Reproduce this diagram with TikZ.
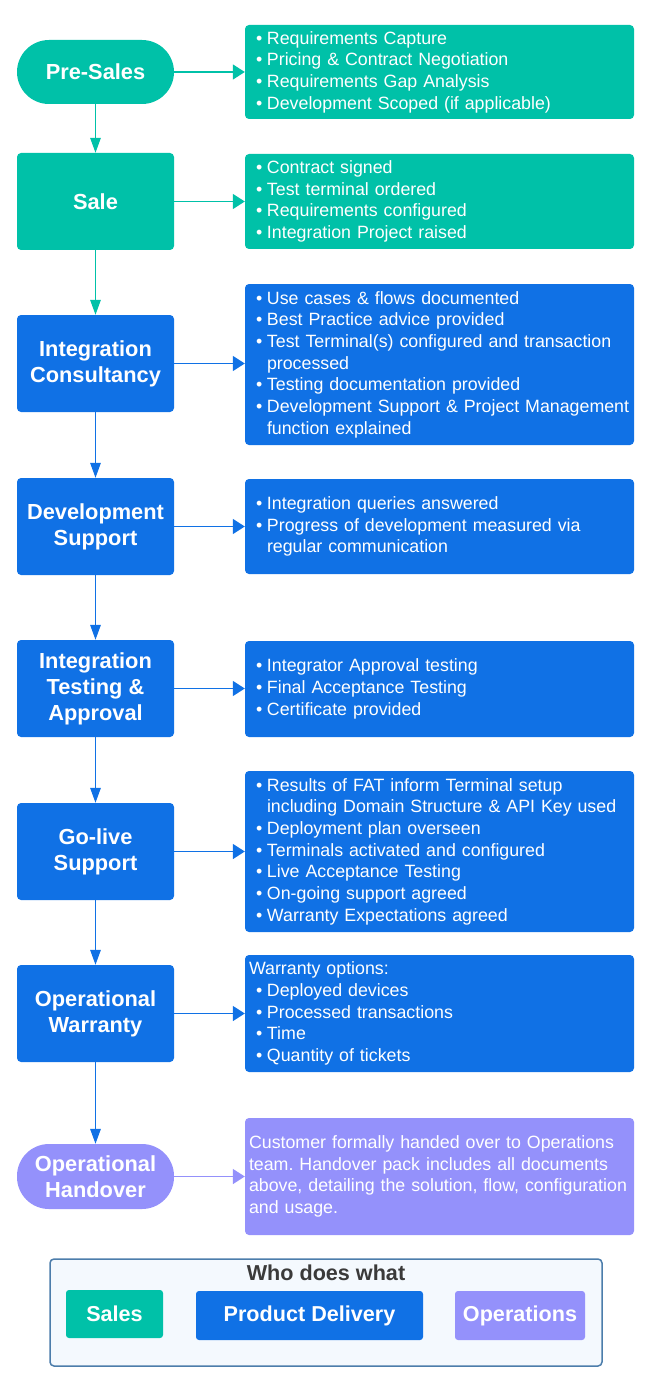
\documentclass[tikz,border=0pt]{standalone}
\usepackage{fontspec}
\setmainfont{Liberation Sans}
\usetikzlibrary{arrows.meta}
\definecolor{cSales}{HTML}{00C1A8}
\definecolor{cDev}{HTML}{1071E5}
\definecolor{cOps}{HTML}{9491FB}
\definecolor{cLegBg}{HTML}{F4F9FE}
\definecolor{cLegBd}{HTML}{4C7DAB}
\definecolor{cTitle}{HTML}{3A3A3A}
\frenchspacing
\hbadness=10000 \hfuzz=20pt
\newcommand\bitem[1]{\mbox{\hspace*{7pt}\makebox[11pt][l]{\textbullet}#1}}
\newcommand\cont[1]{\mbox{\hspace*{18pt}#1}}
\newcommand\plainline[1]{\mbox{#1}}
\tikzset{
  stagebox/.style={rectangle, rounded corners=4pt, minimum width=157pt, minimum height=97pt,
    text=white, font=\fontsize{21.8}{26}\selectfont\bfseries, align=center, inner sep=2pt},
  stadium/.style={stagebox, rounded corners=32pt, minimum height=64pt},
  infobox/.style={rectangle, rounded corners=4pt, text width=381pt, inner xsep=4pt, inner ysep=2pt,
    text=white, font=\fontsize{17.8}{21.7}\selectfont, align=left},
  vflow/.style={line width=1.5pt, -{Triangle[length=15pt,width=10.5pt]}},
  hflow/.style={line width=1.5pt, -{Triangle[length=12pt,width=15pt]}},
  legbox/.style={rectangle, rounded corners=3pt, text=white, font=\fontsize{21.6}{24}\selectfont\bfseries, inner sep=0pt},
}
\begin{document}
\begin{tikzpicture}[x=1pt,y=-1pt]
\useasboundingbox (0,0) rectangle (655,1380);
% stages
\node[stadium, fill=cSales] (pre) at (95.5,72) {Pre-Sales};
\node[stagebox, fill=cSales] (sale) at (95.5,201.5) {Sale};
\node[stagebox, fill=cDev] (ic) at (95.5,363.5) {Integration\\Consultancy};
\node[stagebox, fill=cDev] (ds) at (95.5,526.5) {Development\\Support};
\node[stagebox, fill=cDev] (ita) at (95.5,688.5) {Integration\\Testing \&\\Approval};
\node[stagebox, fill=cDev] (gl) at (95.5,851.5) {Go-live\\Support};
\node[stagebox, fill=cDev] (ow) at (95.5,1013.5) {Operational\\Warranty};
\node[stadium, fill=cOps, minimum height=65pt] (oh) at (95.5,1176.5) {Operational\\Handover};
% info boxes
\node[infobox, fill=cSales, minimum height=94pt] (r1) at (439.5,72) {%
\bitem{Requirements Capture}\\
\bitem{Pricing \& Contract Negotiation}\\
\bitem{Requirements Gap Analysis}\\
\bitem{Development Scoped (if applicable)}};
\node[infobox, fill=cSales, minimum height=95pt] (r2) at (439.5,201.5) {%
\bitem{Contract signed}\\
\bitem{Test terminal ordered}\\
\bitem{Requirements configured}\\
\bitem{Integration Project raised}};
\node[infobox, fill=cDev, minimum height=161pt] (r3) at (439.5,364.5) {%
\bitem{Use cases \& flows documented}\\
\bitem{Best Practice advice provided}\\
\bitem{Test Terminal(s) configured and transaction}\\
\cont{processed}\\
\bitem{Testing documentation provided}\\
\bitem{Development Support \& Project Management}\\
\cont{function explained}};
\node[infobox, fill=cDev, minimum height=95pt] (r4) at (439.5,526.5) {%
\bitem{Integration queries answered}\\
\bitem{Progress of development measured via}\\
\cont{regular communication}};
\node[infobox, fill=cDev, minimum height=96pt] (r5) at (439.5,689) {%
\bitem{Integrator Approval testing}\\
\bitem{Final Acceptance Testing}\\
\bitem{Certificate provided}};
\node[infobox, fill=cDev, minimum height=161pt] (r6) at (439.5,851.5) {%
\bitem{Results of FAT inform Terminal setup}\\
\cont{including Domain Structure \& API Key used}\\
\bitem{Deployment plan overseen}\\
\bitem{Terminals activated and configured}\\
\bitem{Live Acceptance Testing}\\
\bitem{On-going support agreed}\\
\bitem{Warranty Expectations agreed}};
\node[infobox, fill=cDev, minimum height=117pt] (r7) at (439.5,1013.5) {%
\plainline{Warranty options:}\\
\bitem{Deployed devices}\\
\bitem{Processed transactions}\\
\bitem{Time}\\
\bitem{Quantity of tickets}};
\node[infobox, fill=cOps, minimum height=117pt] (r8) at (439.5,1176.5) {%
\plainline{Customer formally handed over to Operations}\\
\plainline{team. Handover pack includes all documents}\\
\plainline{above, detailing the solution, flow, configuration}\\
\plainline{and usage.}\\[6pt]};
% vertical connectors
\draw[vflow, cSales] (pre) -- (sale);
\draw[vflow, cSales] (sale) -- (ic);
\draw[vflow, cDev] (ic) -- (ds);
\draw[vflow, cDev] (ds) -- (ita);
\draw[vflow, cDev] (ita) -- (gl);
\draw[vflow, cDev] (gl) -- (ow);
\draw[vflow, cDev] (ow) -- (oh);
% horizontal connectors
\draw[hflow, cSales] (pre.east) -- (pre.east -| r1.west);
\draw[hflow, cSales] (sale.east) -- (sale.east -| r2.west);
\draw[hflow, cDev] (ic.east) -- (ic.east -| r3.west);
\draw[hflow, cDev] (ds.east) -- (ds.east -| r4.west);
\draw[hflow, cDev] (ita.east) -- (ita.east -| r5.west);
\draw[hflow, cDev] (gl.east) -- (gl.east -| r6.west);
\draw[hflow, cDev] (ow.east) -- (ow.east -| r7.west);
\draw[hflow, cOps] (oh.east) -- (oh.east -| r8.west);
% legend
\node[rectangle, rounded corners=4pt, fill=cLegBg, draw=cLegBd, line width=1.5pt,
  minimum width=552pt, minimum height=107pt, inner sep=0pt] (legend) at (326,1312.5) {};
\node[text=cTitle, font=\fontsize{21.6}{24}\selectfont\bfseries] (legtitle) at (326,1273) {Who does what};
\node[legbox, fill=cSales, minimum width=97pt, minimum height=48pt] (lsales) at (114.5,1314) {Sales};
\node[legbox, fill=cDev, minimum width=227pt, minimum height=49pt] (ldev) at (309.5,1315.5) {Product Delivery};
\node[legbox, fill=cOps, minimum width=130pt, minimum height=49pt] (lops) at (520,1315.5) {Operations};
\end{tikzpicture}
\end{document}
